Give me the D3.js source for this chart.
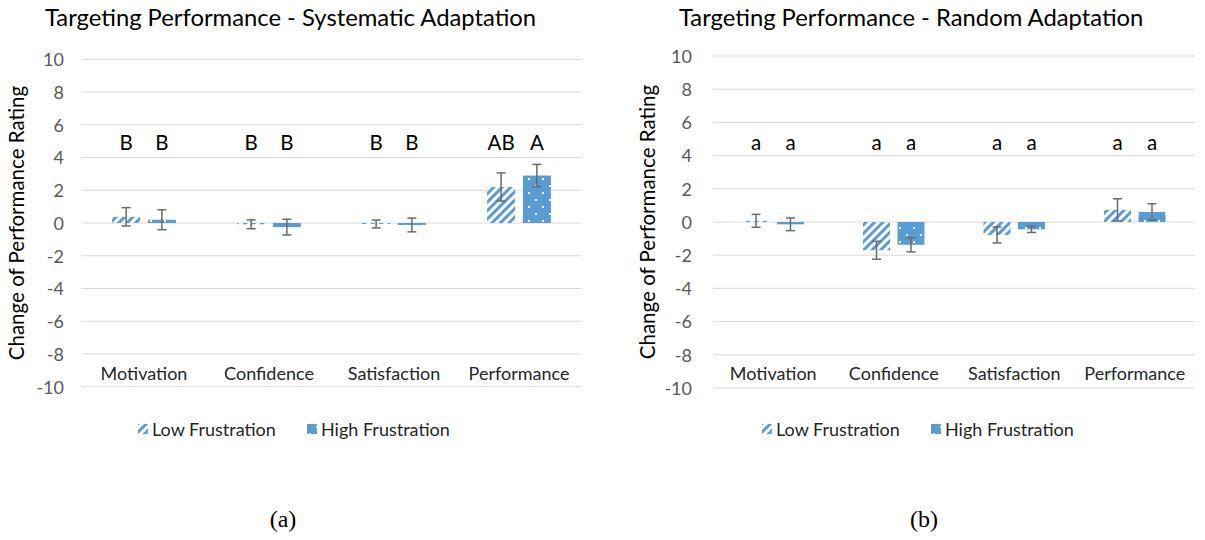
<!DOCTYPE html>
<html><head><meta charset="utf-8">
<script src="https://cdn.jsdelivr.net/npm/d3@7"></script>
<style>
html,body{margin:0;padding:0;background:#fff;}
svg{display:block;}
</style></head>
<body>
<svg id="chart" width="1205" height="540"></svg>
<script>
const categories = ["Motivation", "Confidence", "Satisfaction", "Performance"];
const seriesNames = ["Low Frustration", "High Frustration"];
const yTicks = [-10, -8, -6, -4, -2, 0, 2, 4, 6, 8, 10];

// (a) Systematic Adaptation
const sysLow = [0.38, -0.08, -0.06, 2.2];
const sysLowErr = [0.56, 0.27, 0.24, 0.86];
const sysHigh = [0.2, -0.25, -0.12, 2.9];
const sysHighErr = [0.61, 0.48, 0.42, 0.68];
const sysLowLetters = ["B", "B", "B", "AB"];
const sysHighLetters = ["B", "B", "B", "A"];

// (b) Random Adaptation
const randLow = [0.07, -1.7, -0.78, 0.73];
const randLowErr = [0.39, 0.54, 0.48, 0.67];
const randHigh = [-0.14, -1.37, -0.44, 0.61];
const randHighErr = [0.38, 0.43, 0.19, 0.49];
const randLowLetters = ["a", "a", "a", "a"];
const randHighLetters = ["a", "a", "a", "a"];

const panels = [
  {title: "Targeting Performance - Systematic Adaptation", tag: "(a)",
   low: sysLow, lowErr: sysLowErr, high: sysHigh, highErr: sysHighErr,
   lowL: sysLowLetters, highL: sysHighLetters,
   x0: 81.5, x1: 581.5, yTop: 59.3, yBot: 386.7, titleX: 45, tickX: 64, axisTitleX: 24,
   legendX: 138, tagX: 283},
  {title: "Targeting Performance - Random Adaptation", tag: "(b)",
   low: randLow, lowErr: randLowErr, high: randHigh, highErr: randHighErr,
   lowL: randLowLetters, highL: randHighLetters,
   x0: 713, x1: 1195, yTop: 56, yBot: 388, titleX: 679, tickX: 692, axisTitleX: 655,
   legendX: 762, tagX: 924}
];

const blue = "#5B9BD5";
const FONT = "Lato, 'Open Sans', sans-serif";
const svg = d3.select("#chart");
svg.append("rect").attr("width", 1205).attr("height", 540).attr("fill", "#fff");

const defs = svg.append("defs");
const stripe = defs.append("pattern").attr("id", "stripes").attr("patternUnits", "userSpaceOnUse")
  .attr("width", 6).attr("height", 6).attr("patternTransform", "rotate(45)");
stripe.append("rect").attr("width", 6).attr("height", 6).attr("fill", "#fff");
stripe.append("rect").attr("width", 3).attr("height", 6).attr("fill", blue);

const dots = defs.append("pattern").attr("id", "dots").attr("patternUnits", "userSpaceOnUse")
  .attr("width", 14).attr("height", 14);
dots.append("rect").attr("width", 14).attr("height", 14).attr("fill", blue);
dots.append("rect").attr("x", 3).attr("y", 3).attr("width", 2).attr("height", 2).attr("fill", "#fff");
dots.append("rect").attr("x", 10).attr("y", 10).attr("width", 2).attr("height", 2).attr("fill", "#fff");

panels.forEach(p => {
  const g = svg.append("g");
  const y = d3.scaleLinear().domain([-10, 10]).range([p.yBot, p.yTop]);
  const x = d3.scaleBand().domain(categories).range([p.x0, p.x1]);
  const bw = x.bandwidth() * 0.224;
  const gap = x.bandwidth() * 0.062;

  // gridlines
  g.selectAll(".grid").data(yTicks).join("line")
    .attr("x1", p.x0).attr("x2", p.x1)
    .attr("y1", d => y(d)).attr("y2", d => y(d))
    .attr("stroke", "#d9d9d9").attr("stroke-width", 1);

  // y axis via d3 axis (only labels)
  const ax = g.append("g").attr("transform", `translate(${p.tickX},0)`)
    .call(d3.axisLeft(y).tickValues(yTicks).tickFormat(d => String(d)).tickSize(0).tickPadding(0));
  ax.select(".domain").remove();
  ax.selectAll("text").attr("font-family", FONT).attr("font-size", 18).attr("fill", "#595959")
    .attr("dy", "0.35em");

  // title
  g.append("text").attr("x", p.titleX).attr("y", 26).text(p.title)
    .attr("font-family", FONT).attr("font-size", 23.8).attr("fill", "#000");

  // y axis title
  g.append("text").attr("transform", `translate(${p.axisTitleX},${(p.yTop + p.yBot) / 2}) rotate(-90)`)
    .attr("text-anchor", "middle").text("Change of Performance Rating")
    .attr("font-family", FONT).attr("font-size", 20.5).attr("fill", "#000");

  const data = categories.map((c, i) => ([
    {c, v: p.low[i], e: p.lowErr[i], s: 0, L: p.lowL[i]},
    {c, v: p.high[i], e: p.highErr[i], s: 1, L: p.highL[i]}
  ])).flat();
  const bx = d => x(d.c) + x.bandwidth() / 2 + (d.s === 0 ? -gap / 2 - bw : gap / 2);

  g.selectAll(".bar").data(data).join("rect")
    .attr("x", bx).attr("width", bw)
    .attr("y", d => y(Math.max(0, d.v))).attr("height", d => Math.abs(y(d.v) - y(0)))
    .attr("fill", d => d.s === 0 ? "url(#stripes)" : "url(#dots)");

  // error bars
  const eb = g.selectAll(".err").data(data).join("g");
  const cx = d => bx(d) + bw / 2;
  eb.append("line").attr("x1", cx).attr("x2", cx)
    .attr("y1", d => y(d.v + d.e)).attr("y2", d => y(d.v - d.e));
  eb.append("line").attr("x1", d => cx(d) - 4.5).attr("x2", d => cx(d) + 4.5)
    .attr("y1", d => y(d.v + d.e)).attr("y2", d => y(d.v + d.e));
  eb.append("line").attr("x1", d => cx(d) - 4.5).attr("x2", d => cx(d) + 4.5)
    .attr("y1", d => y(d.v - d.e)).attr("y2", d => y(d.v - d.e));
  eb.selectAll("line").attr("stroke", "#6b6b6b").attr("stroke-width", 1.5);

  // letters
  g.selectAll(".let").data(data).join("text")
    .attr("x", cx).attr("y", 150).attr("text-anchor", "middle").text(d => d.L)
    .attr("font-family", FONT).attr("font-size", 20.5).attr("fill", "#000");

  // category labels
  g.selectAll(".cat").data(categories).join("text")
    .attr("x", d => x(d) + x.bandwidth() / 2).attr("y", 380).attr("text-anchor", "middle").text(d => d)
    .attr("font-family", FONT).attr("font-size", 18).attr("fill", "#262626");

  // legend
  const lg = g.append("g").attr("transform", `translate(${p.legendX},430)`);
  const items = [{n: seriesNames[0], f: "url(#stripes)", dx: 0}, {n: seriesNames[1], f: "url(#dots)", dx: 169}];
  items.forEach(it => {
    lg.append("rect").attr("x", it.dx).attr("y", -6).attr("width", 10).attr("height", 10).attr("fill", it.f);
    lg.append("text").attr("x", it.dx + 14).attr("y", 6).text(it.n)
      .attr("font-family", FONT).attr("font-size", 18).attr("fill", "#262626");
  });

  // tag
  g.append("text").attr("x", p.tagX).attr("y", 527).attr("text-anchor", "middle").text(p.tag)
    .attr("font-family", "'Liberation Serif', 'DejaVu Serif', serif").attr("font-size", 24).attr("fill", "#000");
});
</script>
</body></html>
